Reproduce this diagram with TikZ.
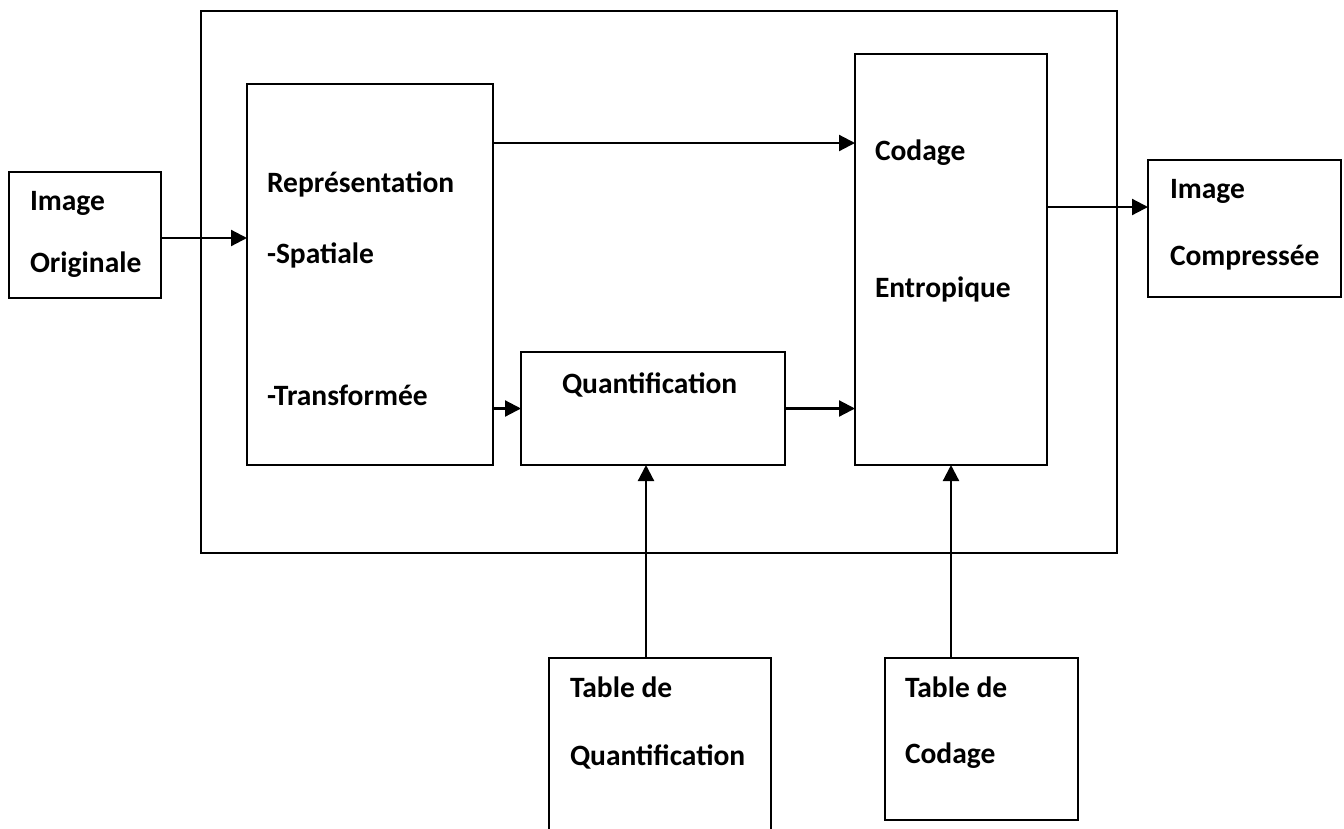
\documentclass[tikz,border=0pt]{standalone}
\usepackage{fontspec}
\setmainfont{Carlito}
\usetikzlibrary{arrows.meta,calc}
\begin{document}
\begin{tikzpicture}[x=1pt,y=-1pt,
  blk/.style={draw, line width=2.2pt, inner sep=0pt, outer sep=0pt, anchor=north west},
  lbl/.style={anchor=base west, inner sep=0pt, outer sep=0pt,
    font=\fontsize{29.5}{35}\selectfont\bfseries},
  arr/.style={line width=2.2pt, -{Triangle[length=16pt,width=16pt]}}]
\useasboundingbox (0,0) rectangle (1344,828);
\clip (0,0) rectangle (1344,828);

% enclosing frame of the coder
\node[blk, minimum width=916pt, minimum height=542pt] (frame) at (201,11) {};

% blocks
\node[blk, minimum width=152pt, minimum height=126pt] (orig) at (9,172) {};
\node[blk, minimum width=246pt, minimum height=381pt] (rep) at (247,84) {};
\node[blk, minimum width=264pt, minimum height=113pt] (quant) at (521,352) {};
\node[blk, minimum width=192pt, minimum height=411pt] (cod) at (855,54) {};
\node[blk, minimum width=193pt, minimum height=137pt] (comp) at (1148,160) {};
\node[blk, minimum width=222pt, minimum height=200pt] (tq) at (549,658) {};
\node[blk, minimum width=193pt, minimum height=162pt] (tc) at (885,658) {};

% texts
\node[lbl] (t1) at (30,210) {Image};
\node[lbl] (t2) at (30,272) {Originale};
\node[lbl] (t3) at (267,192) {Représentation};
\node[lbl] (t4) at (267,263) {-Spatiale};
\node[lbl] (t5) at (267,405) {-Transformée};
\node[lbl] (t6) at (562,393) {Quantification};
\node[lbl] (t7) at (875,160) {Codage};
\node[lbl] (t8) at (875,297) {Entropique};
\node[lbl] (t9) at (1170,198) {Image};
\node[lbl] (t10) at (1170,265) {Compressée};
\node[lbl] (t11) at (570,697) {Table de};
\node[lbl] (t12) at (570,765) {Quantification};
\node[lbl] (t13) at (905,697) {Table de};
\node[lbl] (t14) at (905,763) {Codage};

% connectors
\draw[arr] ([yshift=-3pt]orig.east) -- ([yshift=-3pt]orig.east -| rep.west);
\draw[arr] ([yshift=-59pt]rep.north east) -- ([yshift=-59pt]rep.north east -| cod.west);
\draw[arr] (rep.east |- quant.west) -- (quant.west);
\draw[arr] (quant.east) -- (quant.east -| cod.west);
\draw[arr] ([yshift=-153pt]cod.north east) -- ([yshift=-153pt]cod.north east -| comp.west);
\draw[arr] ([xshift=97pt]tq.north west) -- ([xshift=97pt]tq.north west |- quant.south);
\draw[arr] ([xshift=66pt]tc.north west) -- ([xshift=66pt]tc.north west |- cod.south);
\end{tikzpicture}
\end{document}
